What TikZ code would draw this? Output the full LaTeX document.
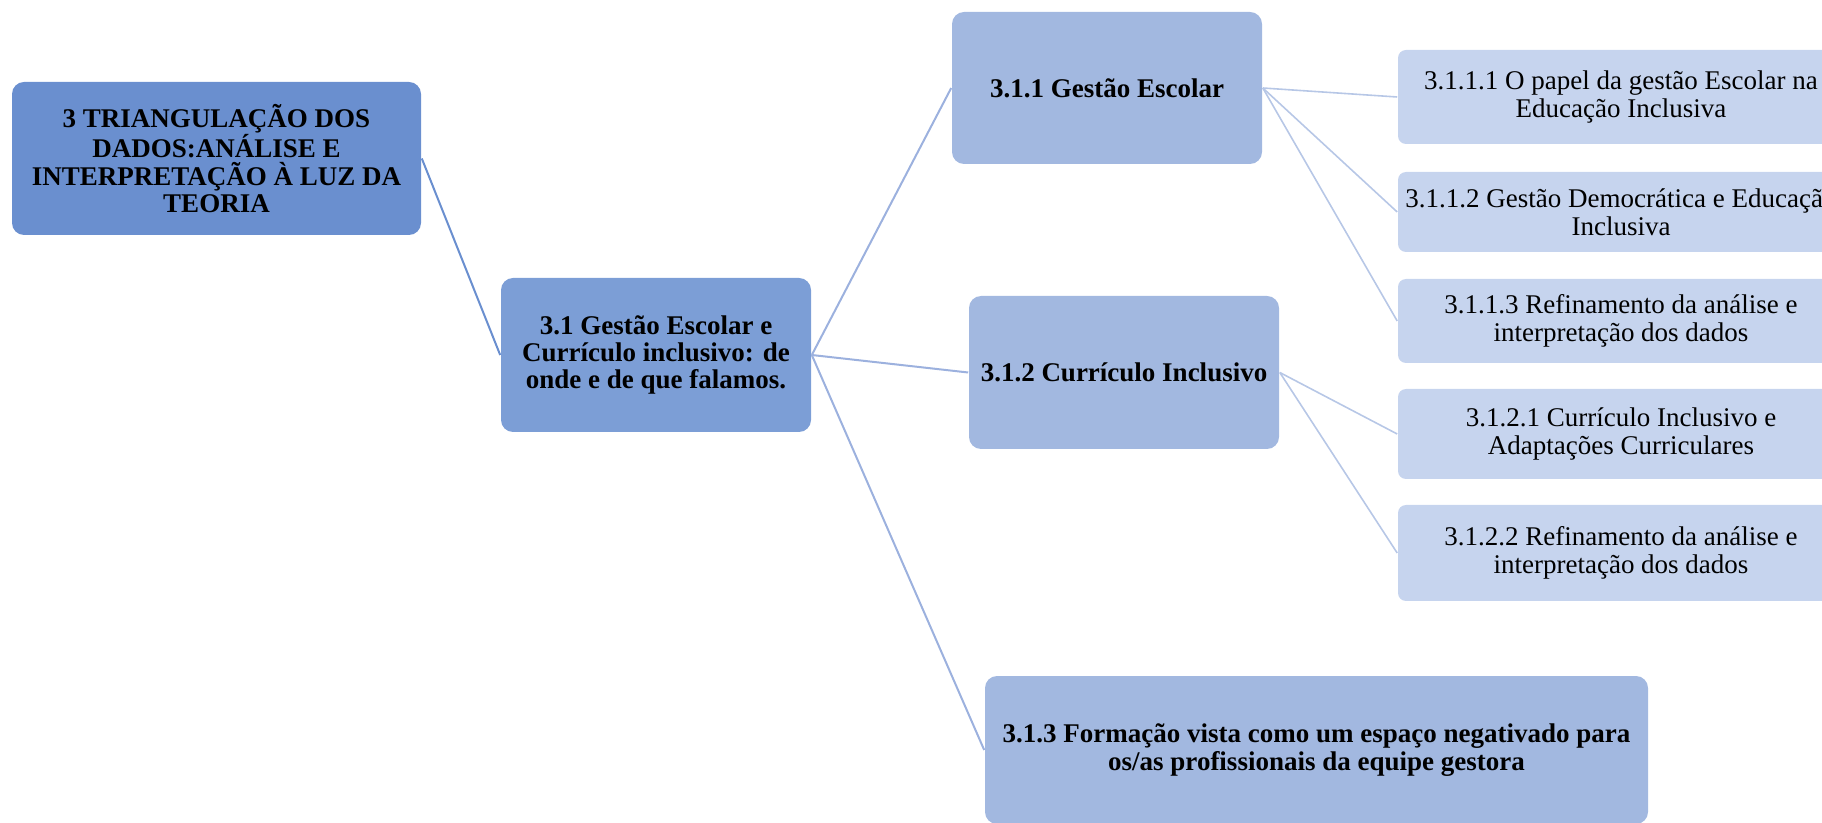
\documentclass[tikz,border=0pt]{standalone}
\usepackage{fontspec}
\setmainfont{Liberation Serif}
\usetikzlibrary{shapes}
\definecolor{rootblue}{HTML}{6A8FCF}
\definecolor{secblue}{HTML}{7C9ED6}
\definecolor{topicblue}{HTML}{A2B8E0}
\definecolor{leafblue}{HTML}{C6D4EE}
\definecolor{linkblue}{HTML}{9CB1DE}
\definecolor{leaflink}{HTML}{B7C7E6}

\begin{document}
\begin{tikzpicture}
[
x=0.5pt, y=-0.5pt, thick,
block/.style    = {rectangle, rounded corners=6pt, align=center, inner sep=0pt,
                   font=\fontsize{13.5}{13.7}\selectfont\bfseries, minimum width=155pt, minimum height=76.5pt},
topic/.style    = {block, fill=topicblue},
leaf/.style     = {rectangle, rounded corners=4pt, align=center, inner sep=0pt, fill=leafblue,
                   font=\fontsize{13.5}{13.9}\selectfont, minimum width=223pt},
]
\useasboundingbox (0,0) rectangle (1822,823);

\node at (216.5,158.5)[block, fill=rootblue, minimum width=204.5pt] (root)
  {3 TRIANGULAÇÃO DOS\\DADOS:ANÁLISE E\\INTERPRETAÇÃO À LUZ DA\\TEORIA};
\node at (656,355)[block, fill=secblue, minimum height=77pt] (gestcurr)
  {3.1 Gestão Escolar e\\Currículo inclusivo: de\\onde e de que falamos.};

\node at (1107,88)[topic, minimum height=76pt] (gestao) {3.1.1 Gestão Escolar};
\node at (1124,372.5)[topic] (curriculo) {3.1.2 Currículo Inclusivo};
\node at (1316.5,750)[topic, minimum width=331.5pt, minimum height=74pt] (formacao)
  {3.1.3 Formação vista como um espaço negativado para\\os/as profissionais da equipe gestora};

\node at (1621,97)[leaf, minimum height=47pt] (papel)
  {3.1.1.1 O papel da gestão Escolar na\\Educação Inclusiva};
\node at (1621,212)[leaf, minimum height=40pt] (democratica)
  {3.1.1.2 Gestão Democrática e Educação\\Inclusiva};
\node at (1621,321)[leaf, minimum height=42pt] (refinogest)
  {3.1.1.3 Refinamento da análise e\\interpretação dos dados};
\node at (1621,434)[leaf, minimum height=45pt] (adaptacoes)
  {3.1.2.1 Currículo Inclusivo e\\Adaptações Curriculares};
\node at (1621,553)[leaf, minimum height=48pt] (refinocurr)
  {3.1.2.2 Refinamento da análise e\\interpretação dos dados};

\draw[rootblue, line width=1pt] (root.east) to (gestcurr.west);
\draw[linkblue, line width=1pt] (gestcurr.east) to (gestao.west);
\draw[linkblue, line width=1pt] (gestcurr.east) to (curriculo.west);
\draw[linkblue, line width=1pt] (gestcurr.east) to (formacao.west);

\draw[leaflink] (gestao.east) to (papel.west);
\draw[leaflink] (gestao.east) to (democratica.west);
\draw[leaflink] (gestao.east) to (refinogest.west);
\draw[leaflink] (curriculo.east) to (adaptacoes.west);
\draw[leaflink] (curriculo.east) to (refinocurr.west);
\end{tikzpicture}
\end{document}
